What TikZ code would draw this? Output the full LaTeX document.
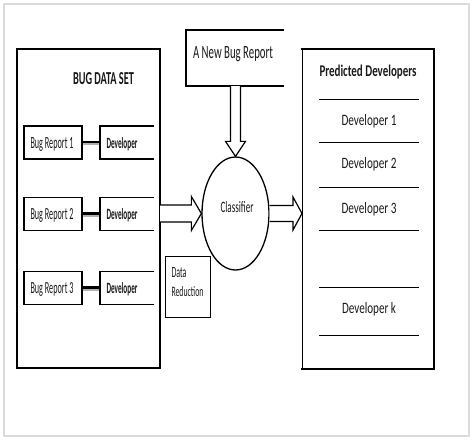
\documentclass[tikz,border=0pt]{standalone}
\usepackage{fontspec}
\setmainfont{Carlito}
\usetikzlibrary{shapes.geometric,calc}
\newcommand\fitt[3]{\resizebox{#1pt}{#2pt}{#3}}
\begin{document}
\begin{tikzpicture}[x=1pt,y=-1pt,
  hold/.style={draw=none,inner sep=0pt,outer sep=0pt},
  lbl/.style={inner sep=0pt,outer sep=0pt,anchor=base,text=black!90},
  heavy/.style={line width=2.4pt,line cap=rect},
  thinedge/.style={line width=1.2pt},
  smalledge/.style={line width=1.5pt,line cap=rect},
  hollow/.style={draw=black,fill=white,line width=1.2pt,line join=miter},
  divider/.style={line width=1pt},
  link/.style={line width=2.4pt}]
\useasboundingbox (0,0) rectangle (473,442);
% outer frame
\draw[line width=2pt,draw=black!14] (4,4) rectangle (469,436);

% left box
\node[hold,minimum width=143pt,minimum height=319pt] (lbox) at (88.5,208.5) {};
\draw[heavy] (lbox.north east) -- (lbox.north west) -- (lbox.south west) -- (lbox.south east);
\draw[thinedge] (lbox.north east) -- (lbox.south east);
\node[lbl] (bds) at (103.5,84) {\fitt{61}{12}{\bfseries BUG DATA SET}};

% bug reports and developers
\foreach \i/\cy in {1/142.5,2/214,3/288}{
  \node[hold,minimum width=58pt,minimum height=33pt] (br\i) at (53,\cy) {};
  \node[hold,minimum width=53pt,minimum height=33pt] (dv\i) at (126.5,\cy) {};
  \draw[line width=2.6pt,draw=black!30] ($(br\i.east)+(0,1.6)$) -- ($(dv\i.west)+(0,1.6)$);
  \draw[link] ($(br\i.east)+(0,-0.6)$) -- ($(dv\i.west)+(0,-0.6)$);
  \draw[smalledge] (br\i.north west) rectangle (br\i.south east);
  \draw[smalledge] (dv\i.north east) -- (dv\i.north west) -- (dv\i.south west) -- (dv\i.south east);
  \node[lbl] (brt\i) at ($(br\i.center)+(-1,5.5)$) {\fitt{43}{11}{Bug Report \i}};
  \node[lbl] (dvt\i) at ($(dv\i.center)+(-4.5,5.5)$) {\fitt{31}{11}{\bfseries Developer}};
}

% new bug report box
\node[hold,minimum width=97pt,minimum height=56pt] (nbr) at (234.5,58) {};
\draw[smalledge] (nbr.north east) -- (nbr.north west) -- (nbr.south west) -- (nbr.south east);
\node[lbl] (nbrt) at (233,58) {\fitt{80}{12}{A New Bug Report}};

% classifier
\node[ellipse,draw,line width=1.3pt,minimum width=67pt,minimum height=113pt,inner sep=0pt] (cls) at (235.5,213.5) {};
\node[lbl] (clst) at (237,212) {\fitt{33}{11}{Classifier}};

% data reduction
\node[hold,minimum width=45pt,minimum height=61pt] (dr) at (187.5,286.5) {};
\draw[line width=1pt] (dr.north west) rectangle (dr.south east);
\node[lbl,anchor=base west] (drt1) at (171.5,277.5) {\fitt{15}{10}{Data}};
\node[lbl,anchor=base west] (drt2) at (171.5,296.5) {\fitt{32}{10}{Reduction}};

% right box
\node[hold,minimum width=132pt,minimum height=320pt] (rbox) at (368,209) {};
\draw[heavy] (rbox.north west) -- (rbox.north east) -- (rbox.south east) -- (rbox.south west);
\draw[line width=1pt] (rbox.north west) -- (rbox.south west);
\node[lbl] (pdt) at (368,76) {\fitt{97}{11.5}{\bfseries Predicted Developers}};
\foreach \y in {99,142,187,230,287,335}{
  \draw[divider] (319,\y) -- (419,\y);
}
\node[lbl] (d1) at (369,125) {\fitt{55}{11}{Developer 1}};
\node[lbl] (d2) at (369,168) {\fitt{55}{11}{Developer 2}};
\node[lbl] (d3) at (369,213) {\fitt{55}{11}{Developer 3}};
\node[lbl] (dk) at (369,313) {\fitt{54}{11}{Developer k}};

% hollow arrows
% down arrow: new bug report -> classifier
\coordinate (dA) at (nbr.south -| cls.north);
\coordinate (dB) at (cls.north);
\draw[hollow] ($(dA)+(-5,0)$) -- ($(dB)+(-5,-15)$) -- ($(dB)+(-10,-15)$) -- (dB)
  -- ($(dB)+(10,-15)$) -- ($(dB)+(5,-15)$) -- ($(dA)+(5,0)$);
% left arrow: data set -> classifier
\coordinate (lA) at (lbox.east |- cls.west);
\coordinate (lB) at (cls.west);
\draw[hollow] ($(lA)+(0,-8.5)$) -- ($(lB)+(-10,-8.5)$) -- ($(lB)+(-10,-17)$) -- (lB)
  -- ($(lB)+(-10,17)$) -- ($(lB)+(-10,8.5)$) -- ($(lA)+(0,8.5)$);
% right arrow: classifier -> predicted developers
\coordinate (rA) at (cls.east);
\coordinate (rB) at (rbox.west |- cls.east);
\draw[hollow] ($(rA)+(0,-8)$) -- ($(rB)+(-9,-8)$) -- ($(rB)+(-9,-16.5)$) -- (rB)
  -- ($(rB)+(-9,16.5)$) -- ($(rB)+(-9,8)$) -- ($(rA)+(0,8)$);
\end{tikzpicture}
\end{document}
